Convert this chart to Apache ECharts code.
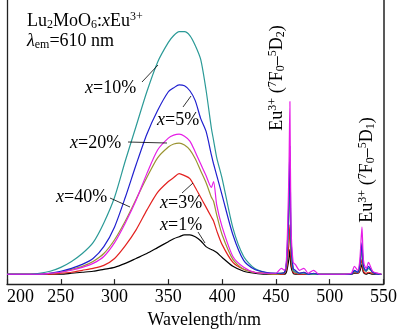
<!DOCTYPE html>
<html><head><meta charset="utf-8">
<script src="https://cdn.jsdelivr.net/npm/echarts@6.0.0/dist/echarts.min.js"></script>
<style>html,body{margin:0;padding:0;background:#fff}#c{width:400px;height:334px}</style>
</head><body><div id="c"></div>
<script>
const wavelengths = [200,220,230,240,250,260,270,280,290,300,310,320,330,340,350,355,360,365,370,375,380,385,390,392,395,400,410,420,430,440,450,455,458,460,462,463,464,466,468,472,476,480,485,490,500,510,520,523,526,528,530,531,532,534,536,540,545,548];
const x10 = [10,10,11,13,17,23,31,42,62,88,125,160,195,225,245,252,256,256,252,242,228,197,158,146,128,107,57,28,16,12,11,11,12,22,70,120,40,14,12,11,11,10,10,10,10,10,10,13,12,18,38,20,15,13,16,12,10,10];
const x5  = [10,10,10,11,13,16,20,26,38,58,88,121,152,176,195,199,202,201,196,186,168,155,131,122,110,90,50,24,15,12,11,11,12,25,85,140,50,16,14,11,12,10,11,10,10,10,10,14,12,20,42,22,16,14,18,12,10,10];
const x20 = [10,10,10,11,12,14,17,21,28,42,62,85,112,136,148,151,152,150,145,134,122,110,98,104,80,58,28,17,12,11,11,16,14,30,110,185,60,22,20,14,16,11,14,10,10,10,11,18,14,25,58,30,20,16,22,13,11,10];
const x40 = [10,10,10,11,12,15,18,23,31,45,64,86,108,128,139,142,143,141,136,127,115,103,88,84,70,50,25,15,12,11,10,11,12,22,70,110,40,14,13,11,12,10,10,10,10,10,10,13,12,18,35,20,15,13,16,12,10,10];
const x3  = [10,10,10,10,11,12,14,16,19,26,39,55,75,93,104,108,112,110,107,98,88,78,68,64,54,40,22,15,12,11,10,10,11,16,40,60,25,12,11,10,10,10,10,10,10,10,10,12,11,15,25,15,12,11,12,11,10,10];
const x1  = [10,10,10,10,10,11,12,13,15,17,21,26,31,37,43,46,48,50,50,48,44,38,35,34,32,27,18,13,11,10,10,10,10,13,25,35,18,11,10,10,10,10,10,10,10,10,10,11,11,13,20,13,11,10,11,10,10,10];
const xTicks = [200,250,300,350,400,450,500,550];

const FONT = 'Liberation Serif';
const pair = arr => wavelengths.map((w,i)=>[w,arr[i]]);
const seriesDefs = [
  {name:'x=1%', data:x1, color:'#000000'},
  {name:'x=3%', data:x3, color:'#e3211f'},
  {name:'x=40%', data:x40, color:'#9b9432'},
  {name:'x=10%', data:x10, color:'#2b9a97'},
  {name:'x=5%', data:x5, color:'#1f1fcf'},
  {name:'x=20%', data:x20, color:'#e61ee6'}
];
const rich = {
  sub:{fontFamily:FONT,fontSize:12,lineHeight:11,verticalAlign:'bottom',fill:'#000'},
  sup:{fontFamily:FONT,fontSize:12,lineHeight:11,verticalAlign:'top',fill:'#000'},
  i:{fontFamily:FONT,fontSize:18,fontStyle:'italic',fill:'#000'}
};
function txt(text,x,y,opt){
  return Object.assign({type:'text',x:x,y:y,z:100,style:Object.assign({text:text,fontFamily:FONT,fontSize:18,lineHeight:20,fill:'#000',rich:rich,align:'left',verticalAlign:'middle'},opt||{})});
}
function ln(x1,y1,x2,y2){return {type:'line',z:100,shape:{x1:x1,y1:y1,x2:x2,y2:y2},style:{stroke:'#000',lineWidth:0.8}};}

const chart = echarts.init(document.getElementById('c'));
chart.setOption({
  animation:false,
  backgroundColor:'#fff',
  grid:{left:7,right:14,top:0,bottom:46},
  xAxis:{type:'value',min:200,max:550,interval:50,
    axisLine:{show:true,lineStyle:{color:'#222',width:1.3}},
    axisTick:{show:true,inside:true,length:5,lineStyle:{color:'#222',width:1.2}},
    axisLabel:{fontFamily:FONT,fontSize:18,color:'#000',margin:4,alignMinLabel:'left',formatter:v=>xTicks.includes(v)?String(v):''},
    splitLine:{show:false},
    name:'Wavelength/nm',nameLocation:'middle',nameGap:24,
    nameTextStyle:{fontFamily:FONT,fontSize:18,color:'#000',padding:[0,0,0,18]}},
  yAxis:[{type:'value',min:0,max:288,position:'left',
    axisLine:{show:true,lineStyle:{color:'#222',width:1.3}},
    axisTick:{show:false},axisLabel:{show:false},splitLine:{show:false}},
    {type:'value',min:0,max:288,position:'right',
    axisLine:{show:true,lineStyle:{color:'#222',width:1.5}},
    axisTick:{show:false},axisLabel:{show:false},splitLine:{show:false}}],
  series:seriesDefs.map(s=>({type:'line',name:s.name,data:pair(s.data),showSymbol:false,symbol:'none',
    smooth:0.25,lineStyle:{color:s.color,width:1.2},itemStyle:{color:s.color}})),
  graphic:[
    txt('Lu{sub|2}MoO{sub|6}:{i|x}Eu{sup|3+}\n{i|λ}{sub|em}=610 nm',27,31),
    txt('{i|x}=10%',85,88), ln(142,82,158,65),
    txt('{i|x}=5%',157,120), ln(183,107,191,96),
    txt('{i|x}=20%',70,143), ln(128,142,167,143),
    txt('{i|x}=40%',56,197), ln(110,198,130,207),
    txt('{i|x}=3%',160,203), ln(182,193,193,183),
    txt('{i|x}=1%',160,225), ln(198,232,205,243),
    Object.assign(txt('Eu{sup|3+} ({sup|7}F{sub|0}–{sup|5}D{sub|2})',277,78,{align:'center'}),{rotation:Math.PI/2}),
    Object.assign(txt('Eu{sup|3+} ({sup|7}F{sub|0}–{sup|5}D{sub|1})',367,170,{align:'center'}),{rotation:Math.PI/2})
  ]
});
</script></body></html>
